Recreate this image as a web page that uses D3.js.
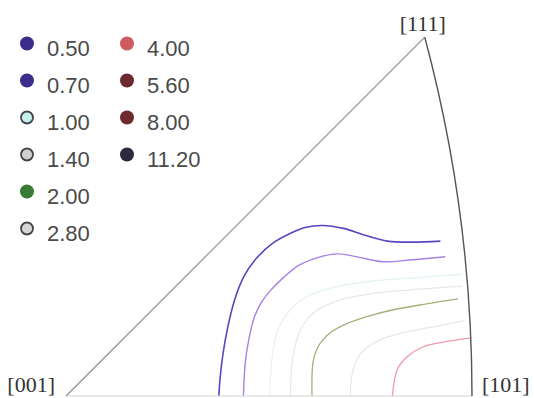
<!DOCTYPE html>
<html>
<head>
<meta charset="utf-8">
<script src="https://cdn.jsdelivr.net/npm/d3@7"></script>
<style>
  body { margin: 0; background: #fff; }
  svg { display: block; }
</style>
</head>
<body>
<div id="chart"></div>
<script>
// contour levels (legend) and their ipf contours, stereographic coords [X, Y]
var levels = ["0.50", "0.70", "1.00", "1.40", "2.00", "2.80", "4.00", "5.60", "8.00", "11.20"];
var poles = ["[001]", "[101]", "[111]"];

var c050 = [[0.156,0],[0.157,0.016],[0.160,0.042],[0.165,0.070],[0.172,0.098],[0.181,0.121],[0.193,0.139],[0.211,0.156],[0.229,0.166],[0.244,0.172],[0.262,0.174],[0.283,0.171],[0.305,0.164],[0.328,0.158],[0.354,0.157],[0.382,0.158]];
var c070 = [[0.181,0],[0.183,0.035],[0.187,0.060],[0.192,0.080],[0.199,0.095],[0.208,0.107],[0.221,0.120],[0.237,0.133],[0.256,0.141],[0.277,0.145],[0.297,0.142],[0.323,0.137],[0.354,0.139],[0.387,0.142]];
var c100 = [[0.208,0],[0.210,0.037],[0.216,0.067],[0.229,0.088],[0.247,0.102],[0.274,0.111],[0.310,0.117],[0.361,0.121],[0.404,0.124]];
var c140 = [[0.229,0],[0.231,0.037],[0.239,0.067],[0.254,0.086],[0.280,0.098],[0.315,0.105],[0.361,0.109],[0.404,0.112]];
var c200 = [[0.251,0],[0.252,0.034],[0.257,0.050],[0.269,0.064],[0.287,0.074],[0.307,0.081],[0.334,0.088],[0.368,0.094],[0.400,0.099]];
var c280 = [[0.290,0],[0.293,0.027],[0.302,0.045],[0.320,0.057],[0.346,0.065],[0.377,0.071],[0.407,0.077]];
var c400 = [[0.333,0],[0.338,0.027],[0.348,0.040],[0.364,0.050],[0.385,0.055],[0.412,0.059]];

var contours = [
  {level: "0.50", pts: c050},
  {level: "0.70", pts: c070},
  {level: "1.00", pts: c100},
  {level: "1.40", pts: c140},
  {level: "2.00", pts: c200},
  {level: "2.80", pts: c280},
  {level: "4.00", pts: c400}
];

var width = 534, height = 398;

var svg = d3.select("#chart").append("svg")
  .attr("width", width)
  .attr("height", height);

// stereographic projection -> pixels (same factor on both axes)
var x = d3.scaleLinear().domain([0, Math.SQRT2 - 1]).range([66, 472]);
var y = d3.scaleLinear().domain([0, Math.SQRT2 - 1]).range([396, -10]);

var k = x(1) - x(0);
var s3 = 1 / Math.sqrt(3);
var p001 = [0, 0],
    p101 = [Math.SQRT2 - 1, 0],
    p111 = [s3 / (1 + s3), s3 / (1 + s3)];
var arcR = Math.SQRT2 * k;

var legendColor = d3.scaleOrdinal().domain(levels)
  .range(["#3b2d8c", "#3b2d8c", "#c6f1e6", "#cfcfcf", "#3a7a37", "#d6d6d6", "#cf5a60", "#6c2930", "#6e2a31", "#2c2a3e"]);
var legendStroke = d3.scaleOrdinal().domain(levels)
  .range(["none", "none", "#445", "#444", "none", "#444", "none", "none", "none", "none"]);
var lineColor = d3.scaleOrdinal().domain(levels)
  .range(["#5548c0", "#a682e6", "#e4f3ee", "#e8e8e8", "#a2b07a", "#e9e7e5", "#ef98aa", "#8a3a40", "#8a3a40", "#333"]);
var lineWidth = d3.scaleOrdinal().domain(levels)
  .range([1.6, 1.4, 1.2, 1.2, 1.3, 1.2, 1.3, 1.2, 1.2, 1.2]);

var trianglePath = "M" + x(p001[0]) + "," + y(p001[1]) +
  " L" + x(p101[0]) + "," + y(p101[1]) +
  " A" + arcR + "," + arcR + " 0 0 0 " + x(p111[0]) + "," + y(p111[1]) + " Z";

svg.append("clipPath").attr("id", "tri")
  .append("path").attr("d", trianglePath);

var line = d3.line()
  .x(function(d) { return x(d[0]); })
  .y(function(d) { return y(d[1]); })
  .curve(d3.curveCatmullRom);

// faint contours first, strong ones on top
var order = ["1.00", "1.40", "2.80", "4.00", "2.00", "0.70", "0.50"];
svg.append("g").attr("clip-path", "url(#tri)")
  .selectAll("path")
  .data(contours.slice().sort(function(a, b) { return order.indexOf(a.level) - order.indexOf(b.level); }))
  .enter().append("path")
  .attr("d", function(d) { return line(d.pts); })
  .attr("fill", "none")
  .attr("stroke", function(d) { return lineColor(d.level); })
  .attr("stroke-width", function(d) { return lineWidth(d.level); });

// triangle edges
svg.append("line")
  .attr("x1", x(p001[0])).attr("y1", y(p001[1]))
  .attr("x2", x(p101[0])).attr("y2", y(p101[1]))
  .attr("stroke", "#d4d4d4").attr("stroke-width", 1.2);
svg.append("line")
  .attr("x1", x(p001[0])).attr("y1", y(p001[1]))
  .attr("x2", x(p111[0])).attr("y2", y(p111[1]))
  .attr("stroke", "#8a8a8a").attr("stroke-width", 1.1);
svg.append("path")
  .attr("d", "M" + x(p101[0]) + "," + y(p101[1]) +
    " A" + arcR + "," + arcR + " 0 0 0 " + x(p111[0]) + "," + y(p111[1]))
  .attr("fill", "none")
  .attr("stroke", "#555").attr("stroke-width", 1.4);

// pole labels
svg.append("text")
  .attr("x", x(p001[0]) - 11).attr("y", y(p001[1]) - 4)
  .attr("text-anchor", "end")
  .text(poles[0]);
svg.append("text")
  .attr("x", x(p101[0]) + 10).attr("y", y(p101[1]) - 4)
  .attr("text-anchor", "start")
  .text(poles[1]);
svg.append("text")
  .attr("x", x(p111[0]) - 2).attr("y", y(p111[1]) - 6)
  .attr("text-anchor", "middle")
  .text(poles[2]);
svg.selectAll("text")
  .attr("font-family", "'Liberation Serif', 'Times New Roman', serif")
  .attr("font-size", "22px")
  .attr("fill", "#333");

// legend, two columns
var leg = svg.append("g").attr("class", "legend")
  .selectAll("g")
  .data(levels)
  .enter().append("g")
  .attr("transform", function(d, i) {
    var col = i < 6 ? 0 : 1, row = i < 6 ? i : i - 6;
    return "translate(" + (27 + col * 100) + "," + (43.5 + row * 37) + ")";
  });

leg.append("circle")
  .attr("r", function(d) { return legendStroke(d) === "none" ? 7 : 6; })
  .attr("fill", function(d) { return legendColor(d); })
  .attr("stroke", function(d) { return legendStroke(d); })
  .attr("stroke-width", 1.8);

leg.append("text")
  .attr("x", 20).attr("y", 12)
  .attr("font-family", "'Liberation Sans', Arial, sans-serif")
  .attr("font-size", "22px")
  .attr("fill", "#4a4a4a")
  .text(function(d) { return d; });
</script>
</body>
</html>
